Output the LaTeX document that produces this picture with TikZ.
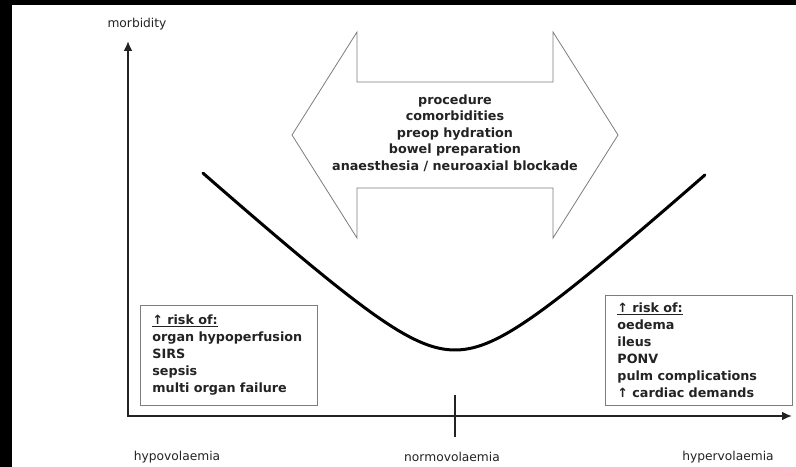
\documentclass[tikz,border=0pt]{standalone}
\usepackage{fontspec}
\setmainfont{DejaVu Sans}
\usetikzlibrary{arrows.meta}
\definecolor{volink}{RGB}{35,35,35}
\definecolor{volgray}{RGB}{125,125,125}

\begin{document}
\begin{tikzpicture}[x=1bp,y=-1bp,
    axis/.style={line width=2.6bp,draw=volink},
    riskbox/.style={draw=volgray,line width=.8bp,anchor=north west,align=left,
      inner xsep=12bp,text=volink,font=\bfseries\fontsize{12.8}{17}\selectfont},
    axislabel/.style={text=volink,font=\fontsize{12.3}{14}\selectfont}]
  \useasboundingbox (0,0) rectangle (796,467);
  \fill[black] (0,0) rectangle (796,467);
  \fill[white] (12,5) rectangle (796,467);
  % Achsen mit Markierung bei Normovolaemie
  \coordinate (ytop) at (128,41);
  \coordinate (origin) at (128,416);
  \coordinate (xend) at (792,416);
  \coordinate (normo) at (455,416);
  \draw[axis,{Latex[length=10bp,width=9bp]}-{Latex[length=10bp,width=9bp]}]
    (ytop) -- (origin) -- (xend);
  \draw[line width=2bp,volink] ([yshift=21bp]normo) -- ([yshift=-21bp]normo);
  \node[axislabel] (morb) at (137,24) {morbidity};
  \node[axislabel] (hypo) at (177,457) {hypovolaemia};
  \node[axislabel] (norm) at (452,457) {normovolaemia};
  \node[axislabel] (hyper) at (728,457) {hypervolaemia};
  % U-Kurve
  \draw[line width=3bp,black,line cap=round] plot[domain=-2.52:2.5,samples=120,smooth]
    ({455+100*\x},{350-100*(sqrt(0.3249+0.81*\x*\x)-0.57)});
  % Doppelpfeil mit Einflussfaktoren
  \draw[volgray,line width=.8bp,line join=miter] (292,135) -- (357,32) -- (357,82)
    -- (553,82) -- (553,32) -- (618,135) -- (553,238) -- (553,188)
    -- (357,188) -- (357,238) -- cycle;
  \node[align=center,text=volink,font=\bfseries\fontsize{12.8}{16.5}\selectfont]
    (factors) at (455,133)
    {procedure\\comorbidities\\preop hydration\\bowel preparation\\
     anaesthesia / neuroaxial blockade};
  % Risiken links und rechts
  \node[riskbox,text width=153bp,minimum height=100bp] (lowrisk) at (140,305)
    {\underline{↑ risk of:}\\organ hypoperfusion\\SIRS\\sepsis\\multi organ failure};
  \node[riskbox,text width=163bp,minimum height=110bp] (highrisk) at (605,295)
    {\underline{↑ risk of:}\\oedema\\ileus\\PONV\\pulm complications\\↑ cardiac demands};
\end{tikzpicture}
\end{document}
